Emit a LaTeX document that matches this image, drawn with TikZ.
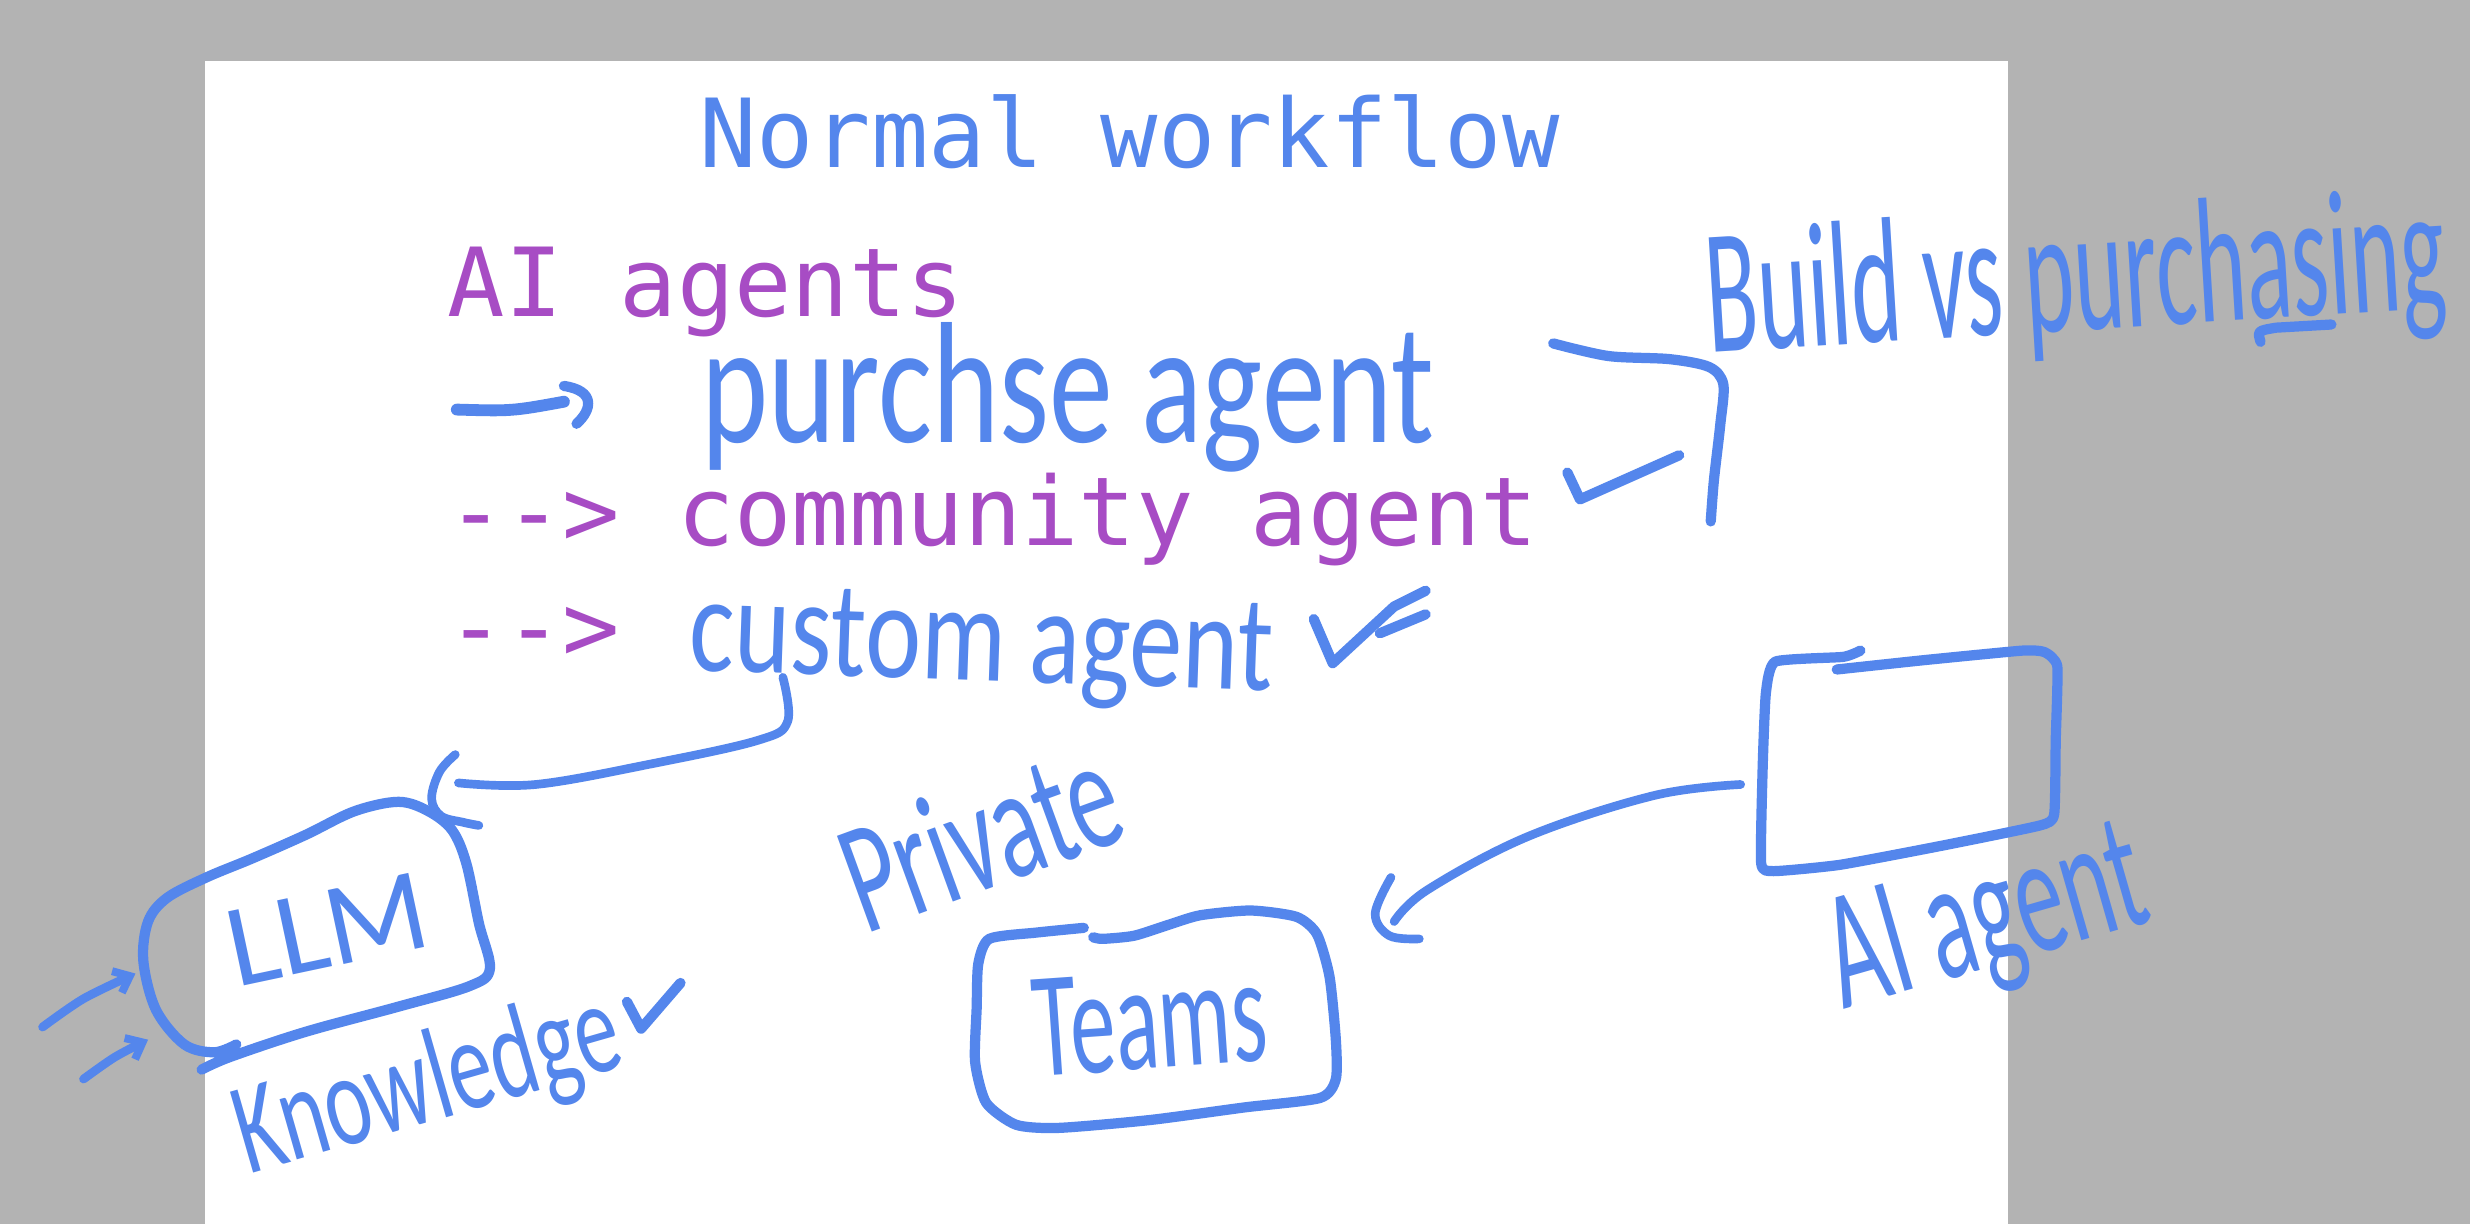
\documentclass[tikz,border=0pt]{standalone}
\usepackage{fontspec}
\usepackage{graphicx}
\newfontfamily\monofont{DejaVu Sans Mono}
\newfontfamily\hwfont{Carlito}
\usetikzlibrary{arrows.meta}
\definecolor{hblue}{RGB}{84,134,236}
\definecolor{tpurple}{RGB}{167,76,196}
\definecolor{bggray}{RGB}{179,179,179}
\newcommand{\hwtxt}[3]{\resizebox*{#1pt}{#2pt}{\hwfont #3}}
\begin{document}
\begin{tikzpicture}[x=1pt,y=-1pt,
  hand/.style={draw=hblue,line width=6.5pt,line cap=round,line join=round},
  conn/.style={hand,line width=5.5pt},
  typed/.style={font={\monofont\fontsize{60.5}{70}\selectfont},inner sep=0pt},
  hwtext/.style={text=hblue,inner sep=0pt},
  barb/.style={-{Straight Barb[length=9pt,width=15pt,line width=5pt]}}]
\useasboundingbox (0,0) rectangle (1568,777);
\fill[bggray] (0,0) rectangle (1568,777);
\fill[white] (130,39) rectangle (1275,777);

% typed text
\node[typed,text=hblue,anchor=base] (title) at (717,106.5) {Normal workflow};
\node[typed,text=tpurple,anchor=base west] (aiag) at (284,200.6) {AI agents};
\node[typed,text=tpurple,anchor=base west] (comm) at (284,346.6) {--> community agent};
\node[typed,text=tpurple,anchor=base west] (row3) at (284,419.6) {-->};

% handwritten text
\node[hwtext] (purch) at (678,252) {\hwtxt{465}{95}{purchse agent}};
\node[hwtext,rotate=-2] (custom) at (623,412) {\hwtxt{370}{70}{custom agent}};
\node[hwtext,rotate=20] (priv) at (622,530) {\hwtxt{180}{70}{Private}};
\node[hwtext,rotate=12] (llm) at (208,590) {\hwtxt{128}{48}{LLM}};
\node[hwtext,rotate=16] (know) at (272,690) {\hwtxt{250}{72}{Knowledge}};
\node[hwtext,rotate=4] (teams) at (730,648) {\hwtxt{148}{62}{Teams}};
\node[hwtext,rotate=16] (aiagent) at (1262,588) {\hwtxt{205}{88}{AI agent}};
\node[hwtext,rotate=3.5] (build) at (1318,180) {\hwtxt{470}{98}{Build vs purchasing}};
\draw[hand] (1435,217) .. controls (1433,210) .. (1445,208) -- (1480,206);

% hand arrow before purchse agent
\draw[hand,line width=7.5pt] (290,260) .. controls (325,261) .. (358,255);
\draw[hand] (358,245) .. controls (378,248) and (376,260) .. (366,269);

% check marks
\draw[hand] (995,300) -- (1003,317) -- (1066,289);
\draw[hand] (834,393) -- (846,421) -- (885,385) -- (905,375);
\draw[hand] (876,402) -- (905,390);
\draw[hand] (398,636) -- (407,653) -- (432,624);

% bracket to Build vs purchasing
\draw[hand] plot[smooth,tension=0.5] coordinates {(986,218) (1021,226) (1060,228) (1085,233) (1094,244) (1092,270) (1088,305) (1086,331)};

% LLM box
\draw[hand] plot[smooth,tension=0.55] coordinates {(150,663) (136,668) (117,663) (99,641) (91,610) (94,585) (106,570) (131,557) (160,545) (194,530) (225,515) (253,509) (272,515) (287,527) (296,548) (304,586) (311,615) (298,626) (253,639) (194,655) (146,671) (128,679)};
% connector custom agent -> LLM
\coordinate (cstart) at (497,430);
\draw[conn] plot[smooth,tension=0.6] coordinates {(cstart) (500,458) (481,470) (413,485) (340,498) (291,497)};
\draw[conn] plot[smooth,tension=0.6] coordinates {(289,479) (279,490) (274,507) (280,518) (294,522) (304,524)};
% incoming arrows to LLM
\draw[conn,barb] plot[smooth] coordinates {(27,652) (53,634) (86,618)};
\draw[conn,barb] plot[smooth] coordinates {(53,685) (73,671) (94,660)};

% Teams box
\draw[hand] plot[smooth,tension=0.4] coordinates {(688,589) (658,592) (628,596) (621,612) (620,640) (619,674) (626,700) (645,714) (672,716) (730,711) (790,703) (838,697) (848,685) (848,660) (844,620) (836,593) (823,582) (794,578) (762,581) (742,587) (720,594) (700,596) (694,595)};

% AI agent box
\draw[hand] plot[smooth,tension=0.3] coordinates {(1181,413) (1170,417) (1127,420) (1121,440) (1119,486) (1118,548) (1126,553) (1168,549) (1232,537) (1295,524) (1304,517) (1305,470) (1306,423) (1298,414) (1284,413) (1222,419) (1166,425)};
% connector AI agent box -> Teams
\draw[conn] plot[smooth,tension=0.6] coordinates {(1105,498) (1050,505) (970,531) (906,565) (885,585)};
\draw[conn] plot[smooth,tension=0.6] coordinates {(883,557) (873,580) (882,594) (901,596)};
\end{tikzpicture}
\end{document}
